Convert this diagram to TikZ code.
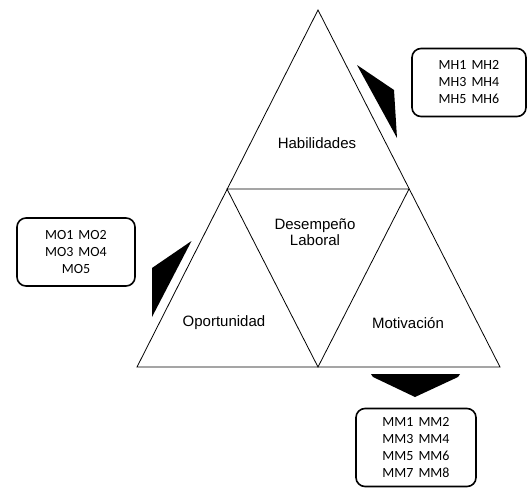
\documentclass[tikz,border=0pt]{standalone}
\usepackage{fontspec}
\setmainfont{Liberation Sans}
\newfontfamily\boxfont{Carlito}
\begin{document}
\begin{tikzpicture}[x=1pt,y=-1pt,
  edge/.style={line width=0.8pt},
  lbl/.style={font=\fontsize{15}{16.5}\selectfont, inner sep=0pt, align=center},
  mbox/.style={draw, line width=1.6pt, rounded corners=9pt, align=center,
    font=\boxfont\fontsize{14}{17}\selectfont, inner sep=0pt},
  blk/.style={fill=black}]
\useasboundingbox (0,0) rectangle (527,488);
% triangle vertices
\coordinate (A) at (318,10);
\coordinate (L) at (227,189);
\coordinate (R) at (409,189);
\coordinate (BL) at (137,367);
\coordinate (BM) at (318,367);
\coordinate (BR) at (500,367);
\draw[edge] (A) -- (BL) -- (BR) -- cycle;
\draw[edge] (L) -- (R) -- (BM) -- cycle;
% labels
\node[lbl] (hab) at (317,143) {Habilidades};
\node[lbl] (des) at (315,232) {Desempeño\\Laboral};
\node[lbl] (opo) at (224,323) {Oportunidad};
\node[lbl] (mot) at (408,323) {Motivación};
% boxes
\node[mbox, minimum width=114pt, minimum height=68pt] (mh) at (469,82.5)
  {MH1\hspace{5pt}MH2\\MH3\hspace{5pt}MH4\\MH5\hspace{5pt}MH6};
\node[mbox, minimum width=118pt, minimum height=68pt] (mo) at (76,252)
  {MO1\hspace{5pt}MO2\\MO3\hspace{5pt}MO4\\MO5};
\node[mbox, minimum width=120pt, minimum height=78pt] (mm) at (416,447.5)
  {MM1\hspace{5pt}MM2\\MM3\hspace{5pt}MM4\\MM5\hspace{5pt}MM6\\MM7\hspace{5pt}MM8};
% black arrow shapes
\fill[blk] (357,65) -- (394,90) -- (397,138) -- cycle;
\fill[blk] (191.5,241) -- (152,268) -- (152,317) -- cycle;
\fill[blk] (371,374) -- (460,374) -- (458,377) -- (415,397) -- (373,377) -- cycle;
\end{tikzpicture}
\end{document}
